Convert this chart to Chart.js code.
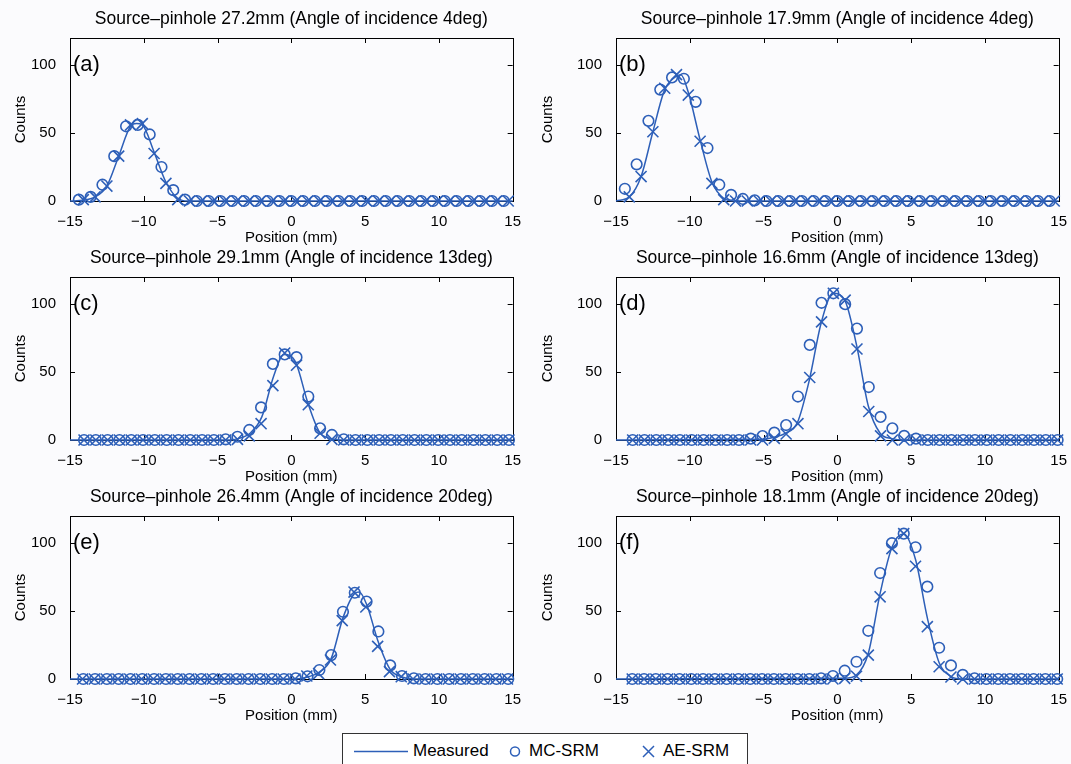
<!DOCTYPE html>
<html>
<head>
<meta charset="utf-8">
<script src="https://cdn.jsdelivr.net/npm/chart.js@4.4.1/dist/chart.umd.min.js"></script>
<style>
  body { margin: 0; background: #fbfbfd; font-family: 'Liberation Sans', Arial, sans-serif; }
  #wrap { position: relative; width: 1071px; height: 764px; overflow: hidden; }
  #wrap canvas { position: absolute; }
  #legend { position: absolute; left: 342px; top: 733px; width: 406px; height: 40px;
            border: 1px solid #333; background: #fff; box-sizing: border-box; }
  #legend span { position: absolute; top: 7px; font-size: 17px; color: #000; line-height: 20px; }
</style>
</head>
<body>
<div id="wrap">
  <div id="legend"></div>
</div>
<script>
const xTickVals = [-15, -10, -5, 0, 5, 10, 15];
const yTickVals = [0, 50, 100];
const seriesNames = ['Measured', 'MC-SRM', 'AE-SRM'];
const panelTitles = [
  'Source\u2013pinhole 27.2mm (Angle of incidence 4deg)',
  'Source\u2013pinhole 17.9mm (Angle of incidence 4deg)',
  'Source\u2013pinhole 29.1mm (Angle of incidence 13deg)',
  'Source\u2013pinhole 16.6mm (Angle of incidence 13deg)',
  'Source\u2013pinhole 26.4mm (Angle of incidence 20deg)',
  'Source\u2013pinhole 18.1mm (Angle of incidence 20deg)'
];
const panelLetters = ['(a)', '(b)', '(c)', '(d)', '(e)', '(f)'];

// detector sample positions (mm), shifted a little per panel
const detectorPos = [-14.4, -13.6, -12.8, -12.0, -11.2, -10.4, -9.6, -8.8, -8.0, -7.2, -6.4, -5.6,
  -4.8, -4.0, -3.2, -2.4, -1.6, -0.8, 0, 0.8, 1.6, 2.4, 3.2, 4.0, 4.8, 5.6, 6.4, 7.2, 8.0, 8.8,
  9.6, 10.4, 11.2, 12.0, 12.8, 13.6, 14.4];
const mcShift = [0, 0, 0.35, 0.53, 0.3, 0.5];
const aeShift = [0.3, 0.3, 0.35, 0.53, 0.25, 0.5];

// (a)
const mcA = [1, 3, 12, 33, 55, 56, 49, 25, 8, 1, 0, 0, 0, 0, 0, 0, 0, 0, 0, 0, 0, 0, 0, 0, 0, 0, 0, 0, 0, 0, 0, 0, 0, 0, 0, 0, 0];
const aeA = [1, 3, 11, 33, 56, 57, 35, 13, 1, 0, 0, 0, 0, 0, 0, 0, 0, 0, 0, 0, 0, 0, 0, 0, 0, 0, 0, 0, 0, 0, 0, 0, 0, 0, 0, 0, 0];
const measXA = [-15, -14.1, -13.3, -12.5, -11.7, -10.9, -10.5, -10.1, -9.3, -8.5, -7.7, -7.0, 15];
const measYA = [0, 0.5, 3, 11, 33, 55, 57, 56, 36, 14, 2, 0, 0];
// (b)
const mcB = [9, 27, 59, 82, 91, 90, 73, 39, 12, 4.5, 1.5, 0.5, 0, 0, 0, 0, 0, 0, 0, 0, 0, 0, 0, 0, 0, 0, 0, 0, 0, 0, 0, 0, 0, 0, 0, 0, 0];
const aeB = [3, 18, 51, 83, 93, 78, 44, 13, 1, 0, 0, 0, 0, 0, 0, 0, 0, 0, 0, 0, 0, 0, 0, 0, 0, 0, 0, 0, 0, 0, 0, 0, 0, 0, 0, 0, 0];
const measXB = [-15, -14.1, -13.3, -12.5, -11.7, -10.9, -10.6, -10.1, -9.3, -8.5, -7.7, -7.0, 15];
const measYB = [0, 3, 18, 51, 82, 92, 93, 80, 45, 14, 2, 0, 0];
// (c)
const mcC = [0, 0, 0, 0, 0, 0, 0, 0, 0, 0, 0, 0, 0.5, 2.4, 7.4, 24, 56, 63, 61, 32, 8.6, 3.7, 0.5, 0, 0, 0, 0, 0, 0, 0, 0, 0, 0, 0, 0, 0, 0];
const aeC = [0, 0, 0, 0, 0, 0, 0, 0, 0, 0, 0, 0, 0, 0.5, 3, 12, 40, 64, 55, 26, 5, 0.5, 0, 0, 0, 0, 0, 0, 0, 0, 0, 0, 0, 0, 0, 0, 0];
const measXC = [-15, -4.2, -3.6, -2.8, -2.0, -1.2, -0.5, 0.3, 1.1, 1.9, 2.7, 3.4, 15];
const measYC = [0, 0, 1, 5, 17, 47, 63, 57, 28, 6, 1, 0, 0];
// (d)
const mcD = [0, 0, 0, 0, 0, 0, 0, 0, 0, 0, 1, 2.9, 5.4, 11, 32, 70, 101, 108, 100, 82, 39, 17, 8.6, 3, 1, 0, 0, 0, 0, 0, 0, 0, 0, 0, 0, 0, 0];
const aeD = [0, 0, 0, 0, 0, 0, 0, 0, 0, 0, 0, 0, 1.2, 4.4, 12, 46, 87, 108, 103, 67, 21, 3, 0, 0, 0, 0, 0, 0, 0, 0, 0, 0, 0, 0, 0, 0, 0];
const measXD = [-15, -5.0, -4.3, -3.5, -2.7, -1.9, -1.1, -0.3, 0.5, 1.3, 2.1, 2.9, 3.7, 4.5, 15];
const measYD = [0, 0.5, 2, 5, 13, 44, 86, 108, 103, 70, 25, 5, 1, 0, 0];
// (e)
const mcE = [0, 0, 0, 0, 0, 0, 0, 0, 0, 0, 0, 0, 0, 0, 0, 0, 0, 0, 0.5, 2, 6.6, 17.6, 49.5, 63.5, 57, 35, 10, 2.2, 0.5, 0, 0, 0, 0, 0, 0, 0, 0];
const aeE = [0, 0, 0, 0, 0, 0, 0, 0, 0, 0, 0, 0, 0, 0, 0, 0, 0, 0, 0, 2.2, 4, 14, 43, 64, 53, 24, 5.4, 1.7, 0, 0, 0, 0, 0, 0, 0, 0, 0];
const measXE = [-15, 0.3, 1.1, 1.9, 2.7, 3.5, 4.3, 4.6, 5.1, 5.9, 6.7, 7.5, 8.3, 15];
const measYE = [0, 0, 1.5, 5, 15, 45, 63, 64, 55, 27, 7, 1.5, 0, 0];
// (f)
const mcF = [0, 0, 0, 0, 0, 0, 0, 0, 0, 0, 0, 0, 0, 0, 0, 0, 0.5, 2.2, 6.1, 12.7, 35.5, 78, 100, 107, 97, 68, 23, 10, 3, 0.5, 0, 0, 0, 0, 0, 0, 0];
const aeF = [0, 0, 0, 0, 0, 0, 0, 0, 0, 0, 0, 0, 0, 0, 0, 0, 0, 0, 0.5, 2, 17.6, 60.5, 96, 107, 83, 38.5, 9, 1.5, 0, 0, 0, 0, 0, 0, 0, 0, 0];
const measXF = [-15, 0.5, 1.3, 2.1, 2.9, 3.7, 4.5, 5.3, 6.1, 6.9, 7.7, 8.5, 15];
const measYF = [0, 0.5, 3, 19, 63, 97, 107, 88, 45, 12, 2, 0, 0];

const mcVals = [mcA, mcB, mcC, mcD, mcE, mcF];
const aeVals = [aeA, aeB, aeC, aeD, aeE, aeF];
const measX = [measXA, measXB, measXC, measXD, measXE, measXF];
const measY = [measYA, measYB, measYC, measYD, measYE, measYF];

const blue = '#2d5fb8';
const fontFamily = "'Liberation Sans', Arial, sans-serif";

// layout of the 3x2 grid
const cols = [
  { left: 0, yW: 70, w: 525, padR: 10, titlePad: 12 },
  { left: 536, yW: 80, w: 535, padR: 9, titlePad: 3 }
];
const rowTops = [0, 239, 478];

// axis box, inward ticks, title and panel letter
const panelFrame = {
  id: 'panelFrame',
  beforeDatasetsDraw(chart, args, opts) {
    const { ctx, chartArea: a, scales: { x, y } } = chart;
    ctx.save();
    ctx.strokeStyle = '#000';
    ctx.lineWidth = 1;
    ctx.strokeRect(Math.round(a.left) + 0.5, Math.round(a.top) + 0.5,
      Math.round(a.right - a.left), Math.round(a.bottom - a.top));
    ctx.beginPath();
    xTickVals.forEach(v => {
      const px = Math.round(x.getPixelForValue(v)) + 0.5;
      ctx.moveTo(px, a.bottom); ctx.lineTo(px, a.bottom - 5);
      ctx.moveTo(px, a.top); ctx.lineTo(px, a.top + 5);
    });
    yTickVals.forEach(v => {
      const py = Math.round(y.getPixelForValue(v)) + 0.5;
      ctx.moveTo(a.left, py); ctx.lineTo(a.left + 5, py);
      ctx.moveTo(a.right, py); ctx.lineTo(a.right - 5, py);
    });
    ctx.stroke();
    ctx.fillStyle = '#000';
    ctx.textBaseline = 'middle';
    ctx.textAlign = 'center';
    ctx.font = '17.5px ' + fontFamily;
    ctx.fillText(opts.title, (a.left + a.right) / 2, a.top - 19);
    ctx.textAlign = 'left';
    ctx.font = '22px ' + fontFamily;
    ctx.fillText(opts.letter, a.left + 3, y.getPixelForValue(100));
    ctx.restore();
  }
};

const wrap = document.getElementById('wrap');

function makePanel(i) {
  const col = cols[i % 2];
  const canvas = document.createElement('canvas');
  canvas.width = col.w;
  canvas.height = 251;
  canvas.style.left = col.left + 'px';
  canvas.style.top = rowTops[Math.floor(i / 2)] + 'px';
  wrap.appendChild(canvas);

  const linePts = measX[i].map((x, k) => ({ x: x, y: measY[i][k] }));
  const mcPts = detectorPos.map((p, k) => ({ x: p + mcShift[i], y: mcVals[i][k] }));
  const aePts = detectorPos.map((p, k) => ({ x: p + aeShift[i], y: aeVals[i][k] }));
  const tickFont = { size: 15, family: fontFamily };

  new Chart(canvas, {
    type: 'scatter',
    data: {
      datasets: [
        { label: seriesNames[0], data: linePts, showLine: true, pointRadius: 0,
          borderColor: blue, borderWidth: 1.5, cubicInterpolationMode: 'monotone', clip: false },
        { label: seriesNames[1], data: mcPts, pointStyle: 'circle', pointRadius: 5.3,
          borderColor: blue, backgroundColor: 'rgba(0,0,0,0)', pointBorderWidth: 1.6, clip: false },
        { label: seriesNames[2], data: aePts, pointStyle: 'crossRot', pointRadius: 7.8,
          borderColor: blue, backgroundColor: blue, pointBorderWidth: 1.6, clip: false }
      ]
    },
    options: {
      responsive: false,
      animation: false,
      devicePixelRatio: 1,
      layout: { padding: { top: 38, right: col.padR, left: 0, bottom: 0 } },
      plugins: {
        legend: { display: false },
        tooltip: { enabled: false },
        panelFrame: { title: panelTitles[i], letter: panelLetters[i] }
      },
      scales: {
        x: {
          type: 'linear', min: -15, max: 15,
          afterBuildTicks: s => { s.ticks = xTickVals.map(v => ({ value: v })); },
          afterFit: s => { s.height = 50; },
          grid: { display: false }, border: { display: false },
          ticks: { padding: 4, color: '#000', font: tickFont,
            callback: v => v < 0 ? '\u2212' + Math.abs(v) : String(v) },
          title: { display: true, text: 'Position (mm)', color: '#000', font: tickFont,
            padding: { top: 0, bottom: 4 } }
        },
        y: {
          type: 'linear', min: 0, max: 120,
          afterBuildTicks: s => { s.ticks = yTickVals.map(v => ({ value: v })); },
          afterFit: s => { s.width = col.yW; },
          grid: { display: false }, border: { display: false },
          ticks: { padding: 6, color: '#000', font: tickFont },
          title: { display: true, text: 'Counts', color: '#000', font: tickFont,
            padding: { top: col.titlePad, bottom: 0 } }
        }
      }
    },
    plugins: [panelFrame]
  });
}

for (let i = 0; i < 6; i++) makePanel(i);

// shared legend
const lg = document.getElementById('legend');
lg.innerHTML =
  '<svg width="406" height="40" style="position:absolute;left:0;top:0">' +
  '<line x1="11" y1="17.5" x2="65" y2="17.5" stroke="' + blue + '" stroke-width="1.3"/>' +
  '<circle cx="172" cy="17.5" r="4.5" fill="none" stroke="' + blue + '" stroke-width="1.5"/>' +
  '<path d="M300 12 L311 23 M311 12 L300 23" stroke="' + blue + '" stroke-width="1.5"/>' +
  '</svg>' +
  '<span style="left:70px">' + seriesNames[0] + '</span>' +
  '<span style="left:186px">' + seriesNames[1] + '</span>' +
  '<span style="left:320px">' + seriesNames[2] + '</span>';
</script>
</body>
</html>
